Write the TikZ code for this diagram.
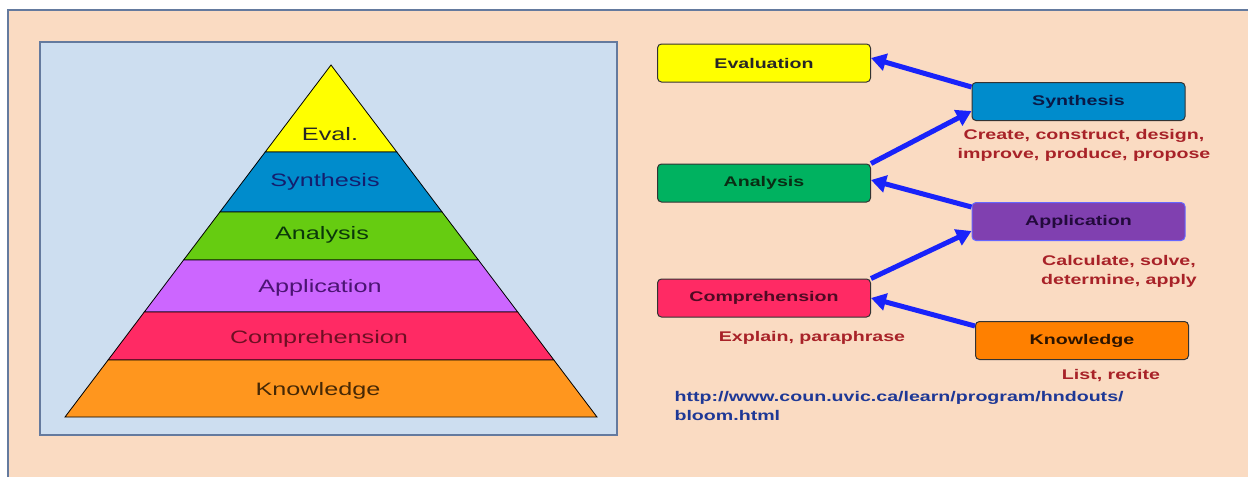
\documentclass[tikz,border=0pt]{standalone}
\usepackage{fontspec}
\setmainfont{Liberation Sans}[FakeStretch=1.4]
\usetikzlibrary{arrows.meta}

\definecolor{peach}{RGB}{250,219,194}
\definecolor{panel}{RGB}{205,222,240}
\definecolor{frame}{RGB}{100,122,158}
\definecolor{evalc}{RGB}{255,255,0}
\definecolor{synthc}{RGB}{0,140,204}
\definecolor{anapyr}{RGB}{102,204,17}
\definecolor{anac}{RGB}{0,178,96}
\definecolor{apppyr}{RGB}{204,102,255}
\definecolor{appc}{RGB}{128,64,176}
\definecolor{compc}{RGB}{255,42,100}
\definecolor{knowc}{RGB}{255,150,30}
\definecolor{knowbox}{RGB}{255,128,0}
\definecolor{verbc}{RGB}{168,34,40}
\definecolor{urlc}{RGB}{30,56,150}
\definecolor{arrowc}{RGB}{25,35,250}

\begin{document}
\begin{tikzpicture}[x=1pt,y=-1pt,
    band/.style={draw=black, line width=0.8pt},
    lvl/.style={font=\fontsize{18}{20}\selectfont},
    levelbox/.style={draw=black!80, line width=1pt, rounded corners=4pt,
        minimum width=213pt, minimum height=38pt,
        font=\fontsize{14}{16}\selectfont\bfseries},
    verbs/.style={text=verbc, align=center, font=\fontsize{14}{19}\selectfont\bfseries},
    flow/.style={draw=arrowc, line width=5pt, -{Triangle[length=15pt,width=17pt]}}]
    \useasboundingbox (0,0) rectangle (1248,477);
    \fill[white] (0,0) rectangle (1248,477);
    \fill[peach] (8,10) rectangle (1248,477);
    \draw[frame, line width=1.5pt] (8,477) -- (8,10) -- (1248,10);

    % pyramid
    \draw[frame, fill=panel, line width=2.5pt] (40,42) rectangle (617,435);
    \filldraw[band, fill=evalc] (331,65) -- (396.8,152) -- (265.2,152) -- cycle;
    \filldraw[band, fill=synthc] (265.2,152) -- (396.8,152) -- (442.1,212) -- (219.9,212) -- cycle;
    \filldraw[band, fill=anapyr] (219.9,212) -- (442.1,212) -- (478.4,260) -- (183.6,260) -- cycle;
    \filldraw[band, fill=apppyr] (183.6,260) -- (478.4,260) -- (517.7,312) -- (144.3,312) -- cycle;
    \filldraw[band, fill=compc] (144.3,312) -- (517.7,312) -- (553.9,360) -- (108.1,360) -- cycle;
    \filldraw[band, fill=knowc] (108.1,360) -- (553.9,360) -- (597,417) -- (65,417) -- cycle;

    \node[lvl, text=black!85] (pEval) at (330,134) {Eval.};
    \node[lvl, text={rgb,255:red,20;green,30;blue,110}] (pSynth) at (325,182) {Synthesis};
    \node[lvl, text={rgb,255:red,10;green,55;blue,10}] (pAna) at (322,235) {Analysis};
    \node[lvl, text={rgb,255:red,75;green,20;blue,115}] (pApp) at (320,288) {Application};
    \node[lvl, text={rgb,255:red,110;green,15;blue,35}] (pComp) at (319,339) {Comprehension};
    \node[lvl, text={rgb,255:red,70;green,40;blue,5}] (pKnow) at (318,391) {Knowledge};

    % levels with verbs
    \node[levelbox, fill=evalc, text=black!85] (eval) at (764,63) {Evaluation};
    \node[levelbox, fill=synthc, text={rgb,255:red,10;green,25;blue,70}] (synth) at (1078.5,101.5) {Synthesis};
    \node[levelbox, fill=anac, text={rgb,255:red,10;green,45;blue,20}] (ana) at (764,183) {Analysis};
    \node[levelbox, fill=appc, draw=blue!60, text={rgb,255:red,35;green,10;blue,60}] (app) at (1078.5,221.5) {Application};
    \node[levelbox, fill=compc, text={rgb,255:red,80;green,10;blue,35}] (comp) at (764,298) {Comprehension};
    \node[levelbox, fill=knowbox, text={rgb,255:red,45;green,20;blue,0}] (know) at (1082,340.5) {Knowledge};

    \node[verbs] (synthVerbs) at (1084,145) {Create, construct, design,\\improve, produce, propose};
    \node[verbs] (appVerbs) at (1119,271) {Calculate, solve,\\determine, apply};
    \node[verbs] (compVerbs) at (812,338) {Explain, paraphrase};
    \node[verbs] (knowVerbs) at (1111,376) {List, recite};
    \node[text=urlc, align=left, anchor=west, font=\fontsize{14}{19}\selectfont\bfseries] (url) at (671,406)
        {http://www.coun.uvic.ca/learn/program/hndouts/\\bloom.html};

    \draw[flow] ([yshift=-5pt]synth.north west) -- ([yshift=5pt]eval.east);
    \draw[flow] (ana.north east) -- ([yshift=10pt]synth.south west);
    \draw[flow] ([yshift=-5pt]app.north west) -- ([yshift=3pt]ana.east);
    \draw[flow] (comp.north east) -- ([yshift=10pt]app.south west);
    \draw[flow] ([yshift=-5pt]know.north west) -- (comp.east);
\end{tikzpicture}
\end{document}
